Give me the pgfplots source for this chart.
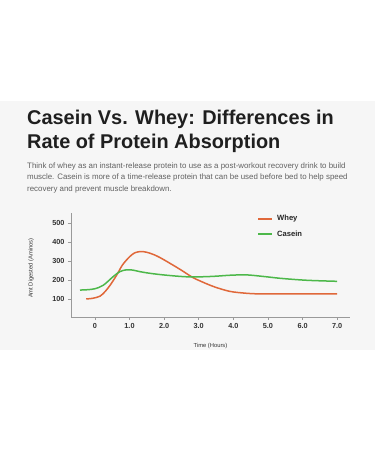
\documentclass[border=0pt]{standalone}
\usepackage{pgfplots}
\pgfplotsset{compat=1.18}
\usepackage{fontspec}
\setmainfont{Liberation Sans}
\definecolor{whey}{HTML}{E0683A}
\definecolor{casein}{HTML}{4DB84A}
\definecolor{panel}{HTML}{F6F6F6}
\definecolor{axisgray}{HTML}{9A9A9A}
\begin{document}
\begin{tikzpicture}[x=1pt,y=1pt]
\fill[white] (0,0) rectangle (375,-450);
\fill[panel] (0,-101) rectangle (375,-350);
\node[anchor=base west,inner sep=0,text=black!88,font=\fontsize{19.9}{24}\selectfont\bfseries] at (27,-124.5) {Casein Vs. Whey: Differences in};
\node[anchor=base west,inner sep=0,text=black!88,font=\fontsize{19.9}{24}\selectfont\bfseries] at (27,-148.5) {Rate of Protein Absorption};
\node[anchor=base west,inner sep=0,text=black!62,font=\fontsize{7.9}{11.5}\selectfont] at (27,-168) {Think of whey as an instant-release protein to use as a post-workout recovery drink to build};
\node[anchor=base west,inner sep=0,text=black!62,font=\fontsize{7.9}{11.5}\selectfont] at (27,-179.5) {muscle. Casein is more of a time-release protein that can be used before bed to help speed};
\node[anchor=base west,inner sep=0,text=black!62,font=\fontsize{7.9}{11.5}\selectfont] at (27,-191) {recovery and prevent muscle breakdown.};
\begin{axis}[
  at={(71pt,-317pt)}, anchor=south west,
  scale only axis, width=279pt, height=104pt,
  xmin=-0.69, xmax=7.37, ymin=5, ymax=553,
  axis lines=left, axis line style={axisgray, line width=0.6pt, -},
  xtick={0,1,2,3,4,5,6,7},
  xticklabels={0,1.0,2.0,3.0,4.0,5.0,6.0,7.0},
  ytick={100,200,300,400,500},
  tick style={axisgray, line width=0.5pt},
  major tick length=3pt,
  tick align=outside,
  ticklabel style={font=\fontsize{7.3}{8}\selectfont\bfseries, text=black!80},
  /pgf/number format/assume math mode=true,
  xlabel={Time (Hours)}, ylabel={Amt Digested (Aminos)},
  label style={font=\fontsize{5.8}{7}\selectfont, text=black!80},
  xlabel style={at={(axis description cs:0.5,0)}, anchor=base, yshift=-30.5pt},
  ylabel style={at={(axis description cs:-0.143,0.47)}, anchor=center},
  clip=false,
]
\addplot[draw=whey, line width=1.5pt, smooth, tension=0.5] coordinates {
(-0.25,100) (-0.05,104) (0.15,115) (0.3,140) (0.45,175) (0.63,226) (0.8,280) (1.0,322) (1.15,343) (1.32,350) (1.5,346) (1.75,330) (2.0,306) (2.46,256) (2.75,222) (2.94,203) (3.42,166) (3.9,140) (4.38,130) (4.7,127) (5.2,127) (6.0,127) (7.0,127)
};
\addplot[draw=casein, line width=1.5pt, smooth, tension=0.5] coordinates {
(-0.43,147) (-0.2,149) (0,154) (0.24,172) (0.53,218) (0.72,244) (0.92,254) (1.1,252) (1.3,244) (1.6,235) (1.97,227) (2.46,219) (2.84,216) (3.4,219) (3.9,225) (4.38,227) (4.9,218) (5.35,209) (5.9,201) (6.31,197) (7.0,193)
};
\end{axis}
% legend
\draw[whey, line width=1.5pt] (258,-219) -- (272,-219);
\node[anchor=west, inner sep=0, text=black!85, font=\fontsize{7.6}{9}\selectfont\bfseries] at (277,-219) {Whey};
\draw[casein, line width=1.5pt] (258,-234) -- (272,-234);
\node[anchor=west, inner sep=0, text=black!85, font=\fontsize{7.6}{9}\selectfont\bfseries] at (277,-234) {Casein};
\end{tikzpicture}
\end{document}
